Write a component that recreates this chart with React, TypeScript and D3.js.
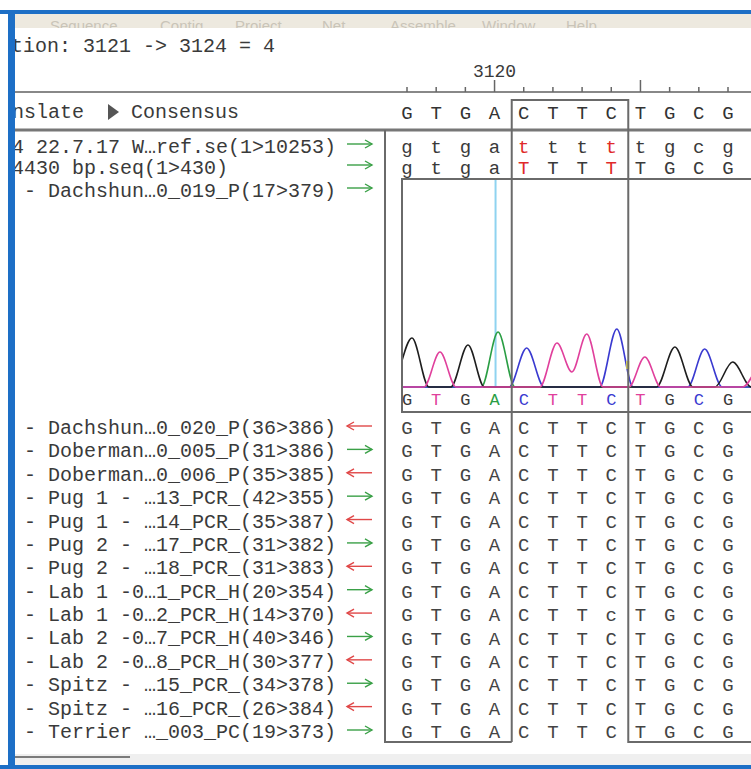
import * as d3 from 'd3';

// alignment window data
const firstPosition = 3117;
const consensus = ['G', 'T', 'G', 'A', 'C', 'T', 'T', 'C', 'T', 'G', 'C', 'G'];
const selectionText = 'tion: 3121 -> 3124 = 4';
const selectionRange = [3121, 3124];
const menuItems = ['Sequence', 'Contig', 'Project', 'Net', 'Assemble', 'Window', 'Help'];
const menuX = [50, 160, 235, 322, 390, 482, 566];

const topLabels = ['4 22.7.17 W…ref.se(1>10253)', '4430 bp.seq(1>430)', '- Dachshun…0_019_P(17>379)'];
const topDirections = ['f', 'f', 'f'];
const topReads = ['gtgatttttgcg', 'gtgaTTTTTGCG'];
const mismatchColumns = [4, 7];

const traceCalls = ['G', 'T', 'G', 'A', 'C', 'T', 'T', 'C', 'T', 'G', 'C', 'G'];

const readLabels = [
  '- Dachshun…0_020_P(36>386)',
  '- Doberman…0_005_P(31>386)',
  '- Doberman…0_006_P(35>385)',
  '- Pug 1 - …13_PCR_(42>355)',
  '- Pug 1 - …14_PCR_(35>387)',
  '- Pug 2 - …17_PCR_(31>382)',
  '- Pug 2 - …18_PCR_(31>383)',
  '- Lab 1 -0…1_PCR_H(20>354)',
  '- Lab 1 -0…2_PCR_H(14>370)',
  '- Lab 2 -0…7_PCR_H(40>346)',
  '- Lab 2 -0…8_PCR_H(30>377)',
  '- Spitz - …15_PCR_(34>378)',
  '- Spitz - …16_PCR_(26>384)',
  '- Terrier …_003_PC(19>373)',
];
const readDirections = ['r', 'f', 'r', 'f', 'r', 'f', 'r', 'f', 'r', 'f', 'r', 'f', 'r', 'f'];
const readSeqs = [
  'GTGACTTCTGCG', 'GTGACTTCTGCG', 'GTGACTTCTGCG', 'GTGACTTCTGCG', 'GTGACTTCTGCG',
  'GTGACTTCTGCG', 'GTGACTTCTGCG', 'GTGACTTCTGCG', 'GTGACTTcTGCG', 'GTGACTTCTGCG',
  'GTGACTTCTGCG', 'GTGACTTCTGCG', 'GTGACTTCTGCG', 'GTGACTTCTGCG',
];

// chromatogram traces: [column, signal]
const traceA = [[-1, 0], [2.55, 0], [3.12, 55], [3.7, 0], [13, 0]];
const traceC = [[-1, 0], [3.5, 0], [4.1, 39], [4.7, 0], [6.6, 0], [7.19, 58], [7.75, 0], [9.62, 0], [10.2, 38], [10.8, 0], [13, 0]];
const traceG = [[-1, 0], [-0.55, 0], [0.17, 49], [0.75, 0], [1.5, 0], [2.09, 42], [2.65, 0], [8.55, 0], [9.18, 40], [9.8, 0], [10.55, 0], [11.16, 25], [11.8, 0], [13, 0]];
const traceT = [[-1, 0], [0.58, 0], [1.13, 35], [1.68, 0], [4.55, 0], [5.14, 44], [5.65, 15], [6.16, 53], [6.72, 0], [7.6, 0], [8.15, 30], [8.7, 0], [11.5, 0], [12.3, 30], [13, 0]];

const baseColor: Record<string, string> = { G: '#3a3a3a', T: '#e0409c', A: '#2a9e44', C: '#3a3ad0' };
const traceColor: Record<string, string> = { G: '#1e1e1e', T: '#e0409c', A: '#2a9e44', C: '#3a3ad0' };

const mono = "'Liberation Mono', 'DejaVu Sans Mono', monospace";
const ink = '#3a3a3a';
const frame = '#6a6a6a';

function Arrow({ y, dir }: { y: number; dir: string }) {
  const x0 = 347, x1 = 372;
  const color = dir === 'f' ? '#3aa047' : '#e04848';
  const tip = dir === 'f' ? x1 : x0;
  const back = dir === 'f' ? -7 : 7;
  return (
    <g stroke={color} strokeWidth={1.4} fill="none">
      <line x1={x0} x2={x1} y1={y} y2={y} />
      <path d={`M${tip + back},${y - 4}L${tip},${y}L${tip + back},${y + 4}`} />
    </g>
  );
}

export default function App() {
  const x = d3.scaleLinear().domain([0, 11]).range([407, 728]);
  const pos = d3.scaleLinear().domain([firstPosition, firstPosition + 11]).range([407, 728]);
  const topY = [147, 168, 191];
  const rowY = d3.scalePoint<number>().domain(readLabels.map((_, i) => i)).range([428, 732]);
  const sy = d3.scaleLinear().domain([0, 60]).range([387, 327]);
  const line = d3
    .line<number[]>()
    .x((d) => x(d[0]))
    .y((d) => sy(d[1]))
    .curve(d3.curveMonotoneX);

  const ticks = d3.range(firstPosition, firstPosition + 12);
  const selLeft = pos(selectionRange[0]) - 12;
  const selRight = pos(selectionRange[1]) + 17;
  const boxLeft = x(0) - 22;
  const chromLeft = x(0) - 5;
  const bottom = 742;

  const letters = (seq: string[], y: number, size: number, color: (c: string, i: number) => string) =>
    seq.map((c, i) => (
      <text key={i} x={x(i)} y={y + size * 0.32} textAnchor="middle" fontSize={size} fill={color(c, i)}>
        {c}
      </text>
    ));

  return (
    <div style={{ position: 'absolute', left: 0, top: 0 }}>
      <svg width={751} height={769} viewBox="0 0 751 769" fontFamily={mono}>
        <defs>
          <clipPath id="labels">
            <rect x={15} y={0} width={370} height={769} />
          </clipPath>
          <clipPath id="chrom">
            <rect x={chromLeft + 1} y={180} width={751} height={209} />
          </clipPath>
          <clipPath id="menu">
            <rect x={15} y={14} width={736} height={14} />
          </clipPath>
        </defs>
        <rect width={751} height={769} fill="#ffffff" />

        {/* window frame and menu */}
        <rect x={15} y={14} width={736} height={14} fill="#ede9df" />
        <g clipPath="url(#menu)" fontFamily="'Liberation Sans', sans-serif" fontSize={15} fill="#c9c4b8">
          {menuItems.map((m, i) => (
            <text key={m} x={menuX[i]} y={31}>{m}</text>
          ))}
        </g>
        <rect x={15} y={754} width={736} height={11} fill="#efefef" />
        <line x1={15} x2={130} y1={757} y2={757} stroke="#555" strokeWidth={1.5} />
        <rect x={0} y={10} width={751} height={4} fill="#1d6fc6" />
        <rect x={8} y={10} width={7} height={759} fill="#1d6fc6" />
        <rect x={0} y={765} width={751} height={4} fill="#1d6fc6" />

        {/* selection text and header */}
        <g clipPath="url(#labels)" fontSize={20} fill={ink}>
          <text x={11} y={52}>{selectionText}</text>
          <text x={12} y={118}>nslate</text>
          <text x={131} y={118}>Consensus</text>
          {topLabels.map((t, i) => (
            <text key={t} x={i < 2 ? 12 : 24} y={topY[i] + 6}>{t}</text>
          ))}
          {readLabels.map((t, i) => (
            <text key={t} x={24} y={(rowY(i) ?? 0) + 6}>{t}</text>
          ))}
        </g>
        <path d="M108,104L119,112L108,120Z" fill="#555" />

        {/* ruler */}
        <line x1={15} x2={751} y1={92} y2={92} stroke="#888" strokeWidth={2} />
        {ticks.map((p) => (
          <line key={p} x1={pos(p)} x2={pos(p)} y1={p % 5 === 0 ? 80 : 87} y2={92} stroke="#666" strokeWidth={1.5} />
        ))}
        {ticks.filter((p) => p % 10 === 0).map((p) => (
          <text key={p} x={pos(p)} y={77} textAnchor="middle" fontSize={18} fill={ink}>{p}</text>
        ))}

        {/* consensus */}
        {letters(consensus, 113, 19, () => '#333')}
        <line x1={15} x2={751} y1={130} y2={130} stroke="#777" strokeWidth={3} />

        {/* arrows */}
        {topDirections.map((d, i) => <Arrow key={i} y={topY[i] - 3} dir={d} />)}
        {readDirections.map((d, i) => <Arrow key={i} y={(rowY(i) ?? 0) - 2} dir={d} />)}

        {/* top reads */}
        {topReads.map((s, r) => (
          <g key={r}>{letters(s.split(''), topY[r], 19, (c, i) => (mismatchColumns.includes(i) ? '#e02a2a' : '#3a3a3a'))}</g>
        ))}

        {/* chromatogram */}
        <g clipPath="url(#chrom)" fill="none" strokeWidth={1.6}>
          <line x1={x(3) + 1} x2={x(3) + 1} y1={180} y2={388} stroke="#8fd3f0" strokeWidth={2} />
          <path d={line(traceA as number[][]) ?? ''} stroke={traceColor.A} />
          <path d={line(traceC as number[][]) ?? ''} stroke={traceColor.C} />
          <path d={line(traceG as number[][]) ?? ''} stroke={traceColor.G} />
          <path d={line(traceT as number[][]) ?? ''} stroke={traceColor.T} />
        </g>
        <rect x={selRight - 2} y={361} width={3} height={8} fill="#f2ea3a" />
        {letters(traceCalls, 400, 17, (c) => baseColor[c])}
        <path d={`M751,179H${chromLeft}V412H751`} fill="none" stroke={frame} strokeWidth={2} />

        {/* lower reads */}
        {readSeqs.map((s, r) => (
          <g key={r}>{letters(s.split(''), rowY(r) ?? 0, 19, () => '#444')}</g>
        ))}

        {/* boxes */}
        <g fill="none" stroke={frame} strokeWidth={2}>
          <path d={`M${boxLeft},130V${bottom}H${selLeft}`} />
          <path d={`M${selLeft},${bottom}V100H${selRight}V${bottom}H751`} />
        </g>
      </svg>
    </div>
  );
}
